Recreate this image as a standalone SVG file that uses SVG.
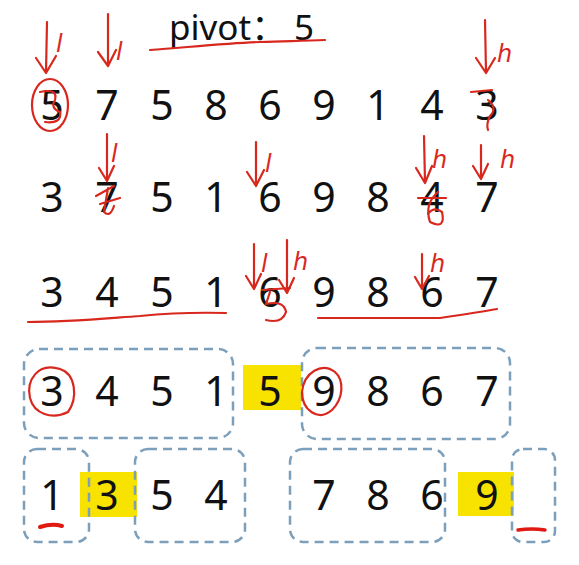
<svg xmlns="http://www.w3.org/2000/svg" width="579" height="565" viewBox="0 0 579 565">
<style>
.d{font-family:"Noto Sans","Open Sans","Liberation Sans",sans-serif;font-size:41px;fill:#111;text-anchor:middle}
.t{font-family:"Noto Sans","Noto Sans CJK SC",sans-serif;font-size:35px;fill:#111}
.r{fill:none;stroke:#d8281e;stroke-width:2.2;stroke-linecap:round;stroke-linejoin:round}
.hl{font-family:"DejaVu Sans","Liberation Sans",sans-serif;font-size:24px;fill:#d8281e;font-style:italic}
.box{fill:none;stroke:#7c9fbb;stroke-width:2.5;stroke-dasharray:9 6}
.y{fill:#f7e200}
</style>
<rect width="579" height="565" fill="#fff"/>

<g id="title">
<text class="t" x="169" y="40">pivot：<tspan x="294">5</tspan></text>
<path class="r" d="M150,50 C190,47 230,43 260,42 C290,41 305,41 325,40"/>
</g>

<g id="highlights">
<rect class="y" x="243" y="365" width="58" height="45"/>
<rect class="y" x="80" y="472" width="57" height="45"/>
<rect class="y" x="458" y="472" width="56" height="44"/>
</g>

<g id="row1">
<text class="d" x="52" y="120">5</text>
<text class="d" x="107" y="120">7</text>
<text class="d" x="162" y="120">5</text>
<text class="d" x="216" y="120">8</text>
<text class="d" x="270" y="120">6</text>
<text class="d" x="324" y="120">9</text>
<text class="d" x="378" y="120">1</text>
<text class="d" x="432" y="120">4</text>
<text class="d" x="487" y="120">3</text>
</g>
<g id="row2">
<text class="d" x="52" y="212">3</text>
<text class="d" x="107" y="212">7</text>
<text class="d" x="162" y="212">5</text>
<text class="d" x="216" y="212">1</text>
<text class="d" x="270" y="212">6</text>
<text class="d" x="324" y="212">9</text>
<text class="d" x="378" y="212">8</text>
<text class="d" x="432" y="212">4</text>
<text class="d" x="487" y="212">7</text>
</g>
<g id="row3">
<text class="d" x="52" y="307">3</text>
<text class="d" x="107" y="307">4</text>
<text class="d" x="162" y="307">5</text>
<text class="d" x="216" y="307">1</text>
<text class="d" x="270" y="307">6</text>
<text class="d" x="324" y="307">9</text>
<text class="d" x="378" y="307">8</text>
<text class="d" x="432" y="307">6</text>
<text class="d" x="487" y="307">7</text>
</g>
<g id="row4">
<text class="d" x="52" y="406">3</text>
<text class="d" x="107" y="406">4</text>
<text class="d" x="162" y="406">5</text>
<text class="d" x="216" y="406">1</text>
<text class="d" x="270" y="406">5</text>
<text class="d" x="324" y="406">9</text>
<text class="d" x="378" y="406">8</text>
<text class="d" x="432" y="406">6</text>
<text class="d" x="487" y="406">7</text>
</g>
<g id="row5">
<text class="d" x="52" y="510">1</text>
<text class="d" x="107" y="510">3</text>
<text class="d" x="162" y="510">5</text>
<text class="d" x="216" y="510">4</text>
<text class="d" x="324" y="510">7</text>
<text class="d" x="378" y="510">8</text>
<text class="d" x="432" y="510">6</text>
<text class="d" x="487" y="510">9</text>
</g>

<g id="boxes">
<rect class="box" x="24" y="349" width="209" height="89" rx="15"/>
<rect class="box" x="302" y="348" width="208" height="91" rx="15"/>
<rect class="box" x="24" y="449" width="65" height="93" rx="13"/>
<rect class="box" x="135" y="449" width="110" height="93" rx="13"/>
<rect class="box" x="290" y="449" width="155" height="93" rx="13"/>
<rect class="box" x="512" y="449" width="43" height="93" rx="11"/>
</g>

<g id="annotations">
<!-- row 1 -->
<path class="r" d="M47,22 L46,72 M36,58 L46,73 L56,56"/>
<text class="hl" x="56" y="52">l</text>
<path class="r" d="M108,14 L108,65 M98,52 L108,66 L116,50"/>
<text class="hl" x="116" y="60">l</text>
<path class="r" d="M485,20 L486,72 M476,58 L486,73 L495,58"/>
<text class="hl" x="497" y="62">h</text>
<ellipse class="r" cx="50" cy="105" rx="18" ry="26"/>
<path class="r" d="M40,92 Q58,88 55,100 Q50,108 60,112 Q62,124 45,122"/>
<path class="r" d="M471,92 L492,90 M488,100 Q498,108 490,116 Q486,124 488,130"/>
<!-- row 2 -->
<path class="r" d="M107,134 L107,180 M99,168 L107,181 L114,166"/>
<text class="hl" x="111" y="162">l</text>
<path class="r" d="M96,196 L114,186 M100,204 L120,198 M108,188 L104,212 Q110,218 114,206"/>
<path class="r" d="M256,142 L256,185 M247,172 L256,186 L264,170"/>
<text class="hl" x="265" y="172">l</text>
<path class="r" d="M424,136 L425,182 M416,168 L425,183 L432,166"/>
<text class="hl" x="432" y="168">h</text>
<path class="r" d="M418,198 L446,198 M438,192 Q424,204 430,222 Q446,230 442,212 Q434,206 428,214"/>
<path class="r" d="M481,145 L481,178 M473,166 L481,179 L488,164"/>
<text class="hl" x="500" y="168">h</text>
<!-- row 3 -->
<path class="r" d="M254,244 L254,288 M246,276 L254,289 L261,274"/>
<text class="hl" x="261" y="272">l</text>
<path class="r" d="M287,240 L287,292 M279,280 L287,293 L294,278"/>
<text class="hl" x="293" y="270">h</text>
<path class="r" d="M262,290 L290,288 M270,292 L266,304 Q284,300 286,312 Q282,324 266,320"/>
<path class="r" d="M422,254 L422,288 M415,277 L422,289 L429,276"/>
<text class="hl" x="430" y="272">h</text>
<path class="r" d="M28,322 C70,322 110,318 140,316 C170,313 190,312 226,313"/>
<path class="r" d="M318,318 L440,318 C460,315 480,312 497,309"/>
<!-- row 4 -->
<path class="r" d="M60,369 C38,362 26,380 30,398 C34,414 52,420 68,412 C78,398 76,374 60,369"/>
<path class="r" d="M335,372 C322,362 304,372 302,392 C302,410 318,422 332,410 C344,398 344,380 335,372"/>
<!-- row 5 -->
<path d="M40,527 Q52,523 62,526" fill="none" stroke="#e01a12" stroke-width="4" stroke-linecap="round"/>
<path d="M518,530 Q532,528 545,530" fill="none" stroke="#e01a12" stroke-width="3.5" stroke-linecap="round"/>
</g>
</svg>
